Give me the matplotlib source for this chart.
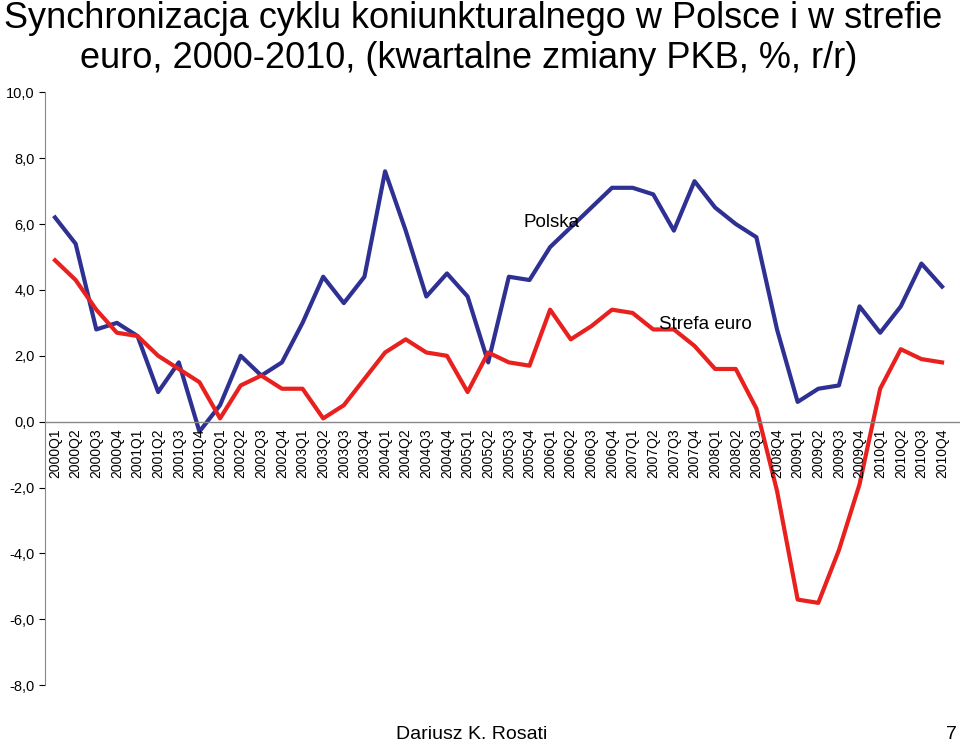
import matplotlib
matplotlib.use("Agg")
import matplotlib.pyplot as plt

quarters = [f"{y}Q{q}" for y in range(2000, 2011) for q in range(1, 5)]
polska = [6.2, 5.4, 2.8, 3.0, 2.6, 0.9, 1.8, -0.3, 0.5, 2.0, 1.4, 1.8,
          3.0, 4.4, 3.6, 4.4, 7.6, 5.8, 3.8, 4.5, 3.8, 1.8, 4.4, 4.3,
          5.3, 5.9, 6.5, 7.1, 7.1, 6.9, 5.8, 7.3, 6.5, 6.0, 5.6, 2.8,
          0.6, 1.0, 1.1, 3.5, 2.7, 3.5, 4.8, 4.1]
strefa = [4.9, 4.3, 3.4, 2.7, 2.6, 2.0, 1.6, 1.2, 0.1, 1.1, 1.4, 1.0,
          1.0, 0.1, 0.5, 1.3, 2.1, 2.5, 2.1, 2.0, 0.9, 2.1, 1.8, 1.7,
          3.4, 2.5, 2.9, 3.4, 3.3, 2.8, 2.8, 2.3, 1.6, 1.6, 0.4, -2.1,
          -5.4, -5.5, -3.9, -1.9, 1.0, 2.2, 1.9, 1.8]
yticks = [10, 8, 6, 4, 2, 0, -2, -4, -6, -8]

plt.rcParams["font.family"] = "Liberation Sans"
fig = plt.figure(figsize=(9.6, 7.44), dpi=100)
ax = fig.add_axes([0.047, 0.079, 0.953, 0.797])
x = list(range(len(quarters)))
ax.plot(x, polska, color="#2E3192", lw=3)
ax.plot(x, strefa, color="#E8211F", lw=3)
ax.set_xlim(-0.48, 43.87)
ax.set_ylim(-8, 10)
ax.set_yticks(yticks)
ax.set_yticklabels([f"{v:.1f}".replace(".", ",") for v in yticks], fontsize=10.5)
ax.tick_params(axis="y", length=4, direction="out")
ax.set_xticks([])
for s in ["top", "right", "bottom"]:
    ax.spines[s].set_visible(False)
ax.spines["left"].set_color("#888888")
ax.axhline(0, color="#888888", lw=1)
for i, q in enumerate(quarters):
    ax.text(i, -0.2, q, rotation=90, ha="center", va="top", fontsize=10)
ax.text(22.7, 5.9, "Polska", fontsize=13.5)
ax.text(29.3, 2.8, "Strefa euro", fontsize=13.5)
fig.text(0.004, 0.998, "Synchronizacja cyklu koniunkturalnego w Polsce i w strefie", fontsize=26, va="top", ha="left")
fig.text(0.083, 0.945, "euro, 2000-2010, (kwartalne zmiany PKB, %, r/r)", fontsize=26, va="top", ha="left")
fig.text(0.412, 0.002, "Dariusz K. Rosati", fontsize=14, va="bottom")
fig.text(0.985, 0.002, "7", fontsize=14, va="bottom")
fig.savefig("out.png", dpi=100)
